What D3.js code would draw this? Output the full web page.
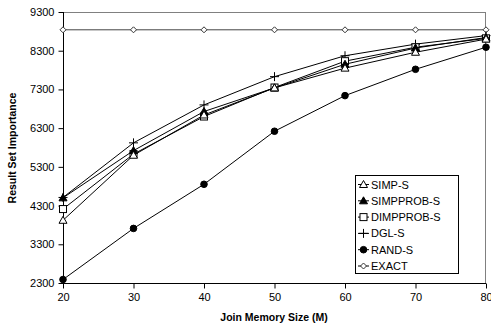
<!DOCTYPE html>
<html>
<head>
<meta charset="utf-8">
<script src="https://cdn.jsdelivr.net/npm/d3@7"></script>
<style>
body { margin: 0; background: #fff; }
svg text { font-family: "Liberation Sans", Arial, sans-serif; }
</style>
</head>
<body>
<svg id="chart" width="491" height="325"></svg>
<script>
var memSizes = [20, 30, 40, 50, 60, 70, 80];
var yTicks = [2300, 3300, 4300, 5300, 6300, 7300, 8300, 9300];

var simpS     = [3920, 5600, 6640, 7340, 7850, 8260, 8600];
var simpProbS = [4500, 5720, 6730, 7340, 7950, 8370, 8640];
var dimpProbS = [4210, 5630, 6600, 7350, 8030, 8390, 8620];
var dglS      = [4510, 5920, 6900, 7630, 8170, 8470, 8690];
var randS     = [2390, 3710, 4850, 6220, 7140, 7820, 8390];
var exact     = [8840, 8840, 8840, 8840, 8840, 8840, 8840];

var series = [
	{ name: "SIMP-S", values: simpS, marker: "triUp", fill: "#fff" },
	{ name: "SIMPPROB-S", values: simpProbS, marker: "triUp", fill: "#000" },
	{ name: "DIMPPROB-S", values: dimpProbS, marker: "square", fill: "#fff" },
	{ name: "DGL-S", values: dglS, marker: "plus", fill: "none" },
	{ name: "RAND-S", values: randS, marker: "circle", fill: "#000" },
	{ name: "EXACT", values: exact, marker: "diamond", fill: "#fff" }
];

var svg = d3.select("#chart");
var plotL = 63, plotR = 486, plotT = 12, plotB = 283;

var x = d3.scaleLinear().domain([20, 80]).range([plotL, plotR]);
var y = d3.scaleLinear().domain([2300, 9300]).range([plotB, plotT]);

// frame (top / right in gray)
svg.append("line").attr("x1", plotL).attr("x2", plotR).attr("y1", plotT + 0.5).attr("y2", plotT + 0.5)
	.attr("stroke", "#808080");
svg.append("line").attr("x1", plotR - 0.5).attr("x2", plotR - 0.5).attr("y1", plotT).attr("y2", plotB)
	.attr("stroke", "#808080");

// axes
var yAxis = d3.axisLeft(y).tickValues(yTicks).tickSize(5).tickPadding(4).tickFormat(d3.format("d"));
var gy = svg.append("g").attr("transform", "translate(" + (plotL + 0.5) + ",0)").call(yAxis);
var xAxis = d3.axisBottom(x).tickValues(memSizes).tickSize(5).tickPadding(5).tickFormat(d3.format("d"));
var gx = svg.append("g").attr("transform", "translate(0," + (plotB + 0.5) + ")").call(xAxis);

[gy, gx].forEach(function(g){
	g.select(".domain").attr("stroke", "#000");
	g.selectAll(".tick line").attr("stroke", "#000");
	g.selectAll(".tick text").attr("font-size", "11px").attr("fill", "#000")
		.style("font-family", "Liberation Sans, Arial, sans-serif");
});
gy.select(".domain").attr("d", "M0," + plotT + "V" + plotB);
gx.select(".domain").attr("d", "M" + plotL + ",0H" + plotR);

// axis titles
svg.append("text").attr("x", 274).attr("y", 321).attr("text-anchor", "middle")
	.attr("font-size", "10.5px").attr("font-weight", "bold").text("Join Memory Size (M)");
svg.append("text").attr("transform", "translate(16,148) rotate(-90)").attr("text-anchor", "middle")
	.attr("font-size", "10.5px").attr("font-weight", "bold").text("Result Set Importance");

function drawMarker(g, kind, fill, cx, cy){
	if(kind == "triUp"){
		g.append("path").attr("d", "M" + cx + "," + (cy - 4) + "L" + (cx + 4) + "," + (cy + 3) + "L" + (cx - 4) + "," + (cy + 3) + "Z")
			.attr("fill", fill).attr("stroke", "#000").attr("stroke-width", 1);
	}else if(kind == "square"){
		g.append("rect").attr("x", cx - 3.5).attr("y", cy - 3.5).attr("width", 7).attr("height", 7)
			.attr("fill", fill).attr("stroke", "#000").attr("stroke-width", 1);
	}else if(kind == "plus"){
		g.append("path").attr("d", "M" + (cx - 4.5) + "," + cy + "H" + (cx + 4.5) + "M" + cx + "," + (cy - 4.5) + "V" + (cy + 4.5))
			.attr("stroke", "#000").attr("stroke-width", 1);
	}else if(kind == "circle"){
		g.append("circle").attr("cx", cx).attr("cy", cy).attr("r", 3.3).attr("fill", fill).attr("stroke", "#000");
	}else if(kind == "diamond"){
		g.append("path").attr("d", "M" + cx + "," + (cy - 3) + "L" + (cx + 3) + "," + cy + "L" + cx + "," + (cy + 3) + "L" + (cx - 3) + "," + cy + "Z")
			.attr("fill", fill).attr("stroke", "#333").attr("stroke-width", 1);
	}
}

var line = d3.line().x(function(d, i){ return x(memSizes[i]); }).y(function(d){ return y(d); });

// draw EXACT first, others over it
series.slice().reverse().forEach(function(s){
	var g = svg.append("g");
	g.append("path").attr("d", line(s.values)).attr("fill", "none")
		.attr("stroke", s.name == "EXACT" ? "#444" : "#000").attr("stroke-width", 1);
	s.values.forEach(function(v, i){
		drawMarker(g, s.marker, s.fill, x(memSizes[i]), y(v));
	});
});

// legend
var lg = svg.append("g");
lg.append("rect").attr("x", 355.5).attr("y", 175.5).attr("width", 103).attr("height", 98)
	.attr("fill", "#fff").attr("stroke", "#000");
series.forEach(function(s, i){
	var ly = 184.5 + i * 16.3;
	lg.append("line").attr("x1", 358).attr("x2", 369).attr("y1", ly).attr("y2", ly).attr("stroke", "#000");
	drawMarker(lg, s.marker, s.fill, 363.5, ly);
	lg.append("text").attr("x", 371).attr("y", ly + 4).attr("font-size", "11px").text(s.name);
});
</script>
</body>
</html>
